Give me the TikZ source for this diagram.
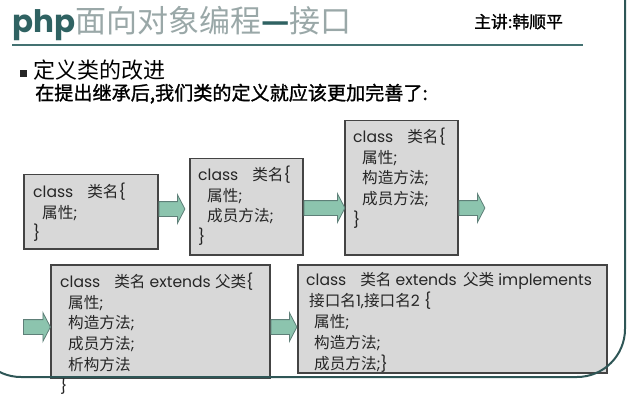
\documentclass[tikz,border=0pt]{standalone}
\usepackage{fontspec}
\setmainfont{Poppins}
\newfontfamily\cjk{Noto Sans CJK SC}
\newfontfamily\cjkfb{Noto Sans CJK SC}[FakeBold=1.2]
\usetikzlibrary{shapes.arrows}
\newcommand{\C}[1]{{\cjk #1}}
\definecolor{teal1}{HTML}{2F6262}
\definecolor{framec}{HTML}{2E5656}
\definecolor{titlegray}{HTML}{9AA8A8}
\definecolor{boxfill}{HTML}{D8D8D8}
\definecolor{boxline}{HTML}{444444}
\definecolor{arrfill}{HTML}{8CC4AE}
\definecolor{arrline}{HTML}{5E7F78}
\tikzset{
  box/.style={draw=boxline, line width=1.5pt, fill=boxfill, rectangle, inner sep=0pt, anchor=north west},
  btext/.style={anchor=north west, inner sep=0pt, align=left, font=\fontsize{15.6}{20.8}\selectfont, text=black!85},
  blockarrow/.style={single arrow, draw=arrline, line width=0.8pt, fill=arrfill, inner sep=7pt,
     single arrow head extend=7pt, single arrow tip angle=125, anchor=tail},
  frame/.style={draw=framec, line width=2pt}
}
\begin{document}
\begin{tikzpicture}[x=1pt,y=-1pt]
\useasboundingbox (0,0) rectangle (634,406);
% title
\node[anchor=base west, inner sep=0pt, font=\fontsize{31}{31}\selectfont] (title) at (12,33)
  {\textbf{\color{teal1}php}{\cjk\color{titlegray}面向对象编程}{\cjk\bfseries\color{teal1}—}{\cjk\color{titlegray}接口}};
\node[anchor=base west, inner sep=0pt, font=\fontsize{16.8}{16.8}\selectfont] (author) at (474,28) {{\cjkfb 主讲:韩顺平}};
\draw[teal1!90, line width=2.5pt] (12,45) -- (583,45);
% bullet
\node[fill=black!85, minimum size=7pt, inner sep=0pt] (bul) at (23.5,74) {};
\node[anchor=base west, inner sep=0pt, font=\fontsize{22}{22}\selectfont] (h1) at (33,79) {\C{定义类的改进}};
\node[anchor=base west, inner sep=0pt, font=\fontsize{19.1}{19.1}\selectfont] (h2) at (35,100) {{\cjkfb 在提出继承后,我们类的定义就应该更加完善了:}};
% boxes
\node[box, minimum width=134pt, minimum height=74pt] (b1) at (23,174) {};
\node[box, minimum width=113pt, minimum height=96pt] (b2) at (189,158) {};
\node[box, minimum width=113pt, minimum height=134pt] (b3) at (344,120) {};
\node[box, minimum width=219pt, minimum height=113pt] (b4) at (50,264) {};
\node[box, minimum width=309pt, minimum height=108pt] (b5) at (297,264) {};
% texts
\node[btext] (t1) at (33,182.5) {class\hspace{14pt}\C{类名}\{\\\hspace*{9pt}\C{属性};\\\}};
\node[btext] (t2) at (198,165.5) {class\hspace{14pt}\C{类名}\{\\\hspace*{9pt}\C{属性};\\\hspace*{9pt}\C{成员方法};\\\}};
\node[btext] (t3) at (353,127.5) {class\hspace{14pt}\C{类名}\{\\\hspace*{9pt}\C{属性};\\\hspace*{9pt}\C{构造方法};\\\hspace*{9pt}\C{成员方法};\\\}};
\node[btext] (t4) at (60,272.5) {class\hspace{14pt}\C{类名} extends \C{父类}\{\\\hspace*{8pt}\C{属性};\\\hspace*{8pt}\C{构造方法};\\\hspace*{8pt}\C{成员方法};\\\hspace*{8pt}\C{析构方法}\\\}};
\node[btext] (t5) at (306,272.5) {class\hspace{14pt}\C{类名} extends\hspace{2pt} \C{父类} implements\\\hspace*{3pt}\C{接口名}1,\C{接口名}2 \{\\\hspace*{8pt}\C{属性};\\\hspace*{8pt}\C{构造方法};\\\hspace*{8pt}\C{成员方法};\}};
% block arrows
\node[blockarrow, minimum height=26pt] (a1) at (b1.east |- 0,209) {};
\node[blockarrow, minimum height=41pt] (a2) at (b2.east |- 0,208) {};
\node[blockarrow, minimum height=26pt] (a3) at (b3.east |- 0,208) {};
\node[blockarrow, minimum height=27pt] (a4) at (23,327) {};
\node[blockarrow, minimum height=26pt] (a5) at (b4.east |- 0,327) {};
% frame
\draw[frame, rounded corners=48pt] (625,-30) -- (625,377) -- (-27,377) -- (-27,300);
\end{tikzpicture}
\end{document}
